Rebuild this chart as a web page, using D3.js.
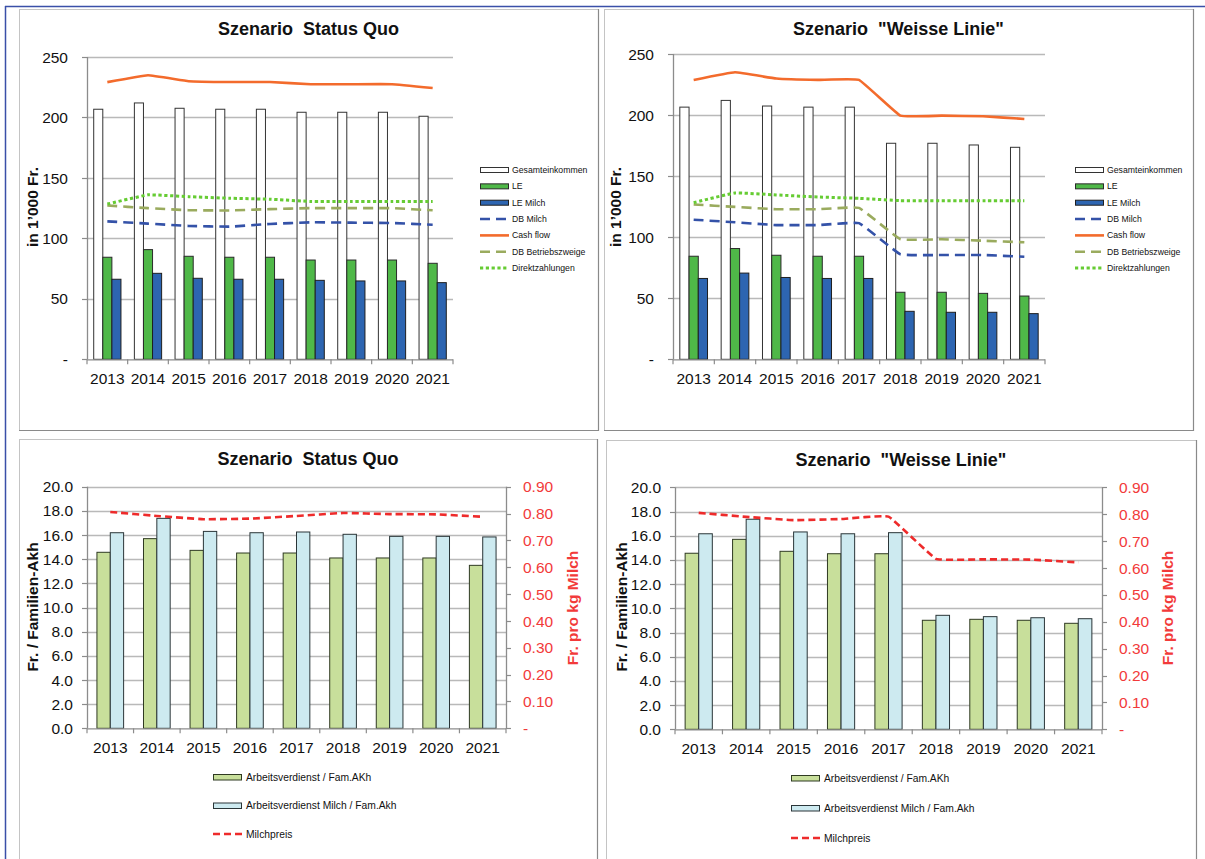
<!DOCTYPE html>
<html>
<head>
<meta charset="utf-8">
<script src="https://cdn.jsdelivr.net/npm/d3@7"></script>
<style>
  html, body { margin: 0; padding: 0; background: #fff; }
  svg { display: block; font-family: "Liberation Sans", Arial, sans-serif; }
</style>
</head>
<body>
<svg id="chart" width="1205" height="859"></svg>
<script>
// ---------- data ----------
const years = ["2013", "2014", "2015", "2016", "2017", "2018", "2019", "2020", "2021"];

// Einkommen (in 1'000 Fr.) – Szenario Status Quo
const sqGesamt   = [206.8, 212.0, 207.6, 206.8, 206.8, 204.3, 204.3, 204.3, 201.0];
const sqLE       = [84.4, 90.7, 85.2, 84.4, 84.4, 82.1, 82.1, 82.1, 79.4];
const sqLEMilch  = [66.2, 71.1, 67.0, 66.2, 66.2, 65.3, 64.8, 64.8, 63.4];
const sqDBMilch  = [114.1, 112.2, 110.3, 109.7, 111.9, 113.3, 113.0, 112.7, 111.3];
const sqCashflow = [229.2, 234.9, 230.0, 229.3, 229.3, 227.5, 227.5, 227.5, 224.4];
const sqDBBetrieb = [127.2, 125.0, 123.3, 123.1, 124.2, 125.0, 125.0, 125.0, 123.2];
const sqDirekt   = [128.4, 136.0, 134.5, 133.2, 132.4, 130.5, 130.5, 130.5, 130.5];

// Einkommen (in 1'000 Fr.) – Szenario "Weisse Linie"
const wlGesamt   = [206.5, 212.0, 207.4, 206.5, 206.5, 176.9, 176.9, 175.5, 173.6];
const wlLE       = [84.4, 90.7, 85.2, 84.4, 84.4, 54.9, 54.9, 54.0, 51.8];
const wlLEMilch  = [66.2, 70.6, 67.0, 66.2, 66.2, 39.3, 38.5, 38.5, 37.4];
const wlDBMilch  = [114.3, 112.2, 109.9, 109.9, 111.5, 86.0, 85.4, 85.4, 84.0];
const wlCashflow = [228.7, 235.0, 229.9, 228.8, 228.8, 199.5, 199.5, 199.0, 196.8];
const wlDBBetrieb = [126.8, 124.8, 122.9, 122.9, 124.0, 98.3, 98.3, 97.1, 95.8];
const wlDirekt   = [128.3, 136.2, 134.6, 132.9, 131.8, 129.9, 129.9, 129.9, 129.9];

// Arbeitsverdienst (Fr. / Familien-Akh) und Milchpreis (Fr. pro kg Milch)
const sqAV        = [14.57, 15.70, 14.73, 14.51, 14.51, 14.10, 14.10, 14.10, 13.49];
const sqAVMilch   = [16.19, 17.38, 16.30, 16.19, 16.25, 16.06, 15.89, 15.89, 15.84];
const sqMilchpreis = [0.806, 0.791, 0.779, 0.781, 0.791, 0.802, 0.798, 0.797, 0.788];

const wlAV        = [14.55, 15.70, 14.71, 14.51, 14.51, 9.01, 9.09, 9.01, 8.76];
const wlAVMilch   = [16.16, 17.36, 16.31, 16.16, 16.25, 9.42, 9.31, 9.22, 9.14];
const wlMilchpreis = [0.805, 0.790, 0.778, 0.782, 0.791, 0.634, 0.632, 0.631, 0.621];

// axis ticks and labels
const incomeTicks = [0, 50, 100, 150, 200, 250];
const incomeTickLabels = ["-", "50", "100", "150", "200", "250"];
const akhTicks = [0, 2, 4, 6, 8, 10, 12, 14, 16, 18, 20];
const akhTickLabels = ["0.0", "2.0", "4.0", "6.0", "8.0", "10.0", "12.0", "14.0", "16.0", "18.0", "20.0"];
const priceTicks = [0, 0.1, 0.2, 0.3, 0.4, 0.5, 0.6, 0.7, 0.8, 0.9];
const priceTickLabels = ["-", "0.10", "0.20", "0.30", "0.40", "0.50", "0.60", "0.70", "0.80", "0.90"];

const incomeLegend = ["Gesamteinkommen", "LE", "LE Milch", "DB Milch", "Cash flow", "DB Betriebszweige", "Direktzahlungen"];
const akhLegend = ["Arbeitsverdienst / Fam.AKh", "Arbeitsverdienst Milch / Fam.Akh", "Milchpreis"];
const titleSQ = "Szenario\u00a0 Status Quo";
const titleWL = "Szenario\u00a0 \"Weisse Linie\"";

// ---------- styles ----------
const C = {
  grid: "#b9b9b9", axis: "#8c8c8c", text: "#111",
  gesamt: "#ffffff", le: "#4fb848", leMilch: "#2d65b1",
  dbMilch: "#3452a8", cash: "#f36b2c", dbBetrieb: "#9aab5e", direkt: "#66cc33",
  av: "#c8df9b", avMilch: "#cdeaf0", price: "#ee2b2b", priceText: "#f23a3a"
};
const lineStyles = {
  "DB Milch": { color: C.dbMilch, dash: "10,6", width: 2.6 },
  "Cash flow": { color: C.cash, dash: null, width: 2.6 },
  "DB Betriebszweige": { color: C.dbBetrieb, dash: "10,6", width: 2.6 },
  "Direktzahlungen": { color: C.direkt, dash: "3.2,2.6", width: 3 }
};
// gently smoothed lines
const smooth = d3.curveCardinal.tension(0.75);

const svg = d3.select("#chart");

// outer frame
svg.append("line").attr("x1", 5).attr("x2", 1205).attr("y1", 6.5).attr("y2", 6.5)
  .attr("stroke", "#3a4fa8").attr("stroke-width", 1.5);
svg.append("line").attr("x1", 5.5).attr("x2", 5.5).attr("y1", 6).attr("y2", 859)
  .attr("stroke", "#3a4fa8").attr("stroke-width", 1.5);

function panelBox(x0, y0, x1, y1) {
  svg.append("rect").attr("x", x0 + 0.5).attr("y", y0 + 0.5)
    .attr("width", x1 - x0).attr("height", y1 - y0)
    .attr("fill", "#fff").attr("stroke", "#c4c4c4").attr("stroke-width", 1);
  svg.append("line").attr("x1", x1 + 0.5).attr("x2", x1 + 0.5).attr("y1", y0).attr("y2", y1 + 1)
    .attr("stroke", "#8a8a8a").attr("stroke-width", 1.2);
  svg.append("line").attr("x1", x0).attr("x2", x1 + 1).attr("y1", y1 + 0.5).attr("y2", y1 + 0.5)
    .attr("stroke", "#8a8a8a").attr("stroke-width", 1.2);
}

function title(txt, cx, y) {
  svg.append("text").attr("x", cx).attr("y", y).attr("text-anchor", "middle")
    .attr("font-size", 18).attr("font-weight", "bold").attr("fill", C.text).text(txt);
}

function rotatedTitle(txt, cx, cy, color) {
  svg.append("text").attr("transform", `translate(${cx},${cy}) rotate(-90)`)
    .attr("text-anchor", "middle").attr("dy", "0.36em")
    .attr("font-size", 15.5).attr("font-weight", "bold").attr("fill", color).text(txt);
}

// category axis with ticks at the category borders
function categoryAxis(g, x, y0, x0, x1) {
  g.append("line").attr("x1", x0).attr("x2", x1).attr("y1", y0 + 0.5).attr("y2", y0 + 0.5)
    .attr("stroke", C.axis).attr("stroke-width", 1.3);
  const borders = years.map(d => x(d)).concat([x(years[years.length - 1]) + x.bandwidth()]);
  g.selectAll(null).data(borders).join("line")
    .attr("x1", d => d).attr("x2", d => d).attr("y1", y0).attr("y2", y0 + 5)
    .attr("stroke", C.axis).attr("stroke-width", 1.2);
  g.selectAll(null).data(years).join("text")
    .attr("x", d => x(d) + x.bandwidth() / 2).attr("y", y0 + 19).attr("dy", "0.35em")
    .attr("text-anchor", "middle").attr("font-size", 15.5).attr("fill", C.text).text(d => d);
}

function valueAxis(g, y, ticks, labels, xAxis, xEnd, labelRight) {
  g.selectAll(null).data(ticks).join("line")
    .attr("x1", xAxis).attr("x2", xEnd).attr("y1", d => Math.round(y(d)) + 0.5).attr("y2", d => Math.round(y(d)) + 0.5)
    .attr("stroke", d => d === 0 ? "none" : C.grid).attr("stroke-width", 1.5);
  g.append("line").attr("x1", xAxis + 0.5).attr("x2", xAxis + 0.5)
    .attr("y1", y(ticks[ticks.length - 1])).attr("y2", y(0))
    .attr("stroke", C.axis).attr("stroke-width", 1.3);
  g.selectAll(null).data(ticks).join("line")
    .attr("x1", xAxis - 5).attr("x2", xAxis).attr("y1", d => Math.round(y(d)) + 0.5).attr("y2", d => Math.round(y(d)) + 0.5)
    .attr("stroke", C.axis).attr("stroke-width", 1.2);
  g.selectAll(null).data(ticks).join("text")
    .attr("x", labelRight).attr("y", d => y(d)).attr("dy", "0.36em")
    .attr("text-anchor", "end").attr("font-size", 15.5).attr("fill", C.text)
    .text((d, i) => labels[i]);
}

// ---------- income chart (bars + lines) ----------
function incomeChart(p, s) {
  panelBox(p.box[0], p.box[1], p.box[2], p.box[3]);
  title(p.title, (p.box[0] + p.box[2]) / 2, 35);
  const g = svg.append("g");
  const x = d3.scaleBand().domain(years).range([p.x0, p.x1]).padding(0);
  const y = d3.scaleLinear().domain([0, 250]).range([p.yBottom, p.yTop]);
  valueAxis(g, y, incomeTicks, incomeTickLabels, p.x0, p.x1, p.x0 - 19);

  const barSeries = [
    { name: "Gesamteinkommen", values: s.gesamt, fill: C.gesamt, stroke: "#333" },
    { name: "LE", values: s.le, fill: C.le, stroke: "#2a2a2a" },
    { name: "LE Milch", values: s.leMilch, fill: C.leMilch, stroke: "#1f1f1f" }
  ];
  const groupW = x.bandwidth() * 0.67;
  const xs = d3.scaleBand().domain(barSeries.map(d => d.name)).range([0, groupW]).padding(0);
  barSeries.forEach(ser => {
    g.selectAll(null).data(ser.values).join("rect")
      .attr("x", (d, i) => x(years[i]) + (x.bandwidth() - groupW) / 2 + xs(ser.name))
      .attr("y", d => y(d))
      .attr("width", xs.bandwidth())
      .attr("height", d => y(0) - y(d))
      .attr("fill", ser.fill).attr("stroke", ser.stroke).attr("stroke-width", 1);
  });
  categoryAxis(g, x, p.yBottom, p.x0, p.x1);

  const lineSeries = [
    { name: "DB Milch", values: s.dbMilch },
    { name: "Cash flow", values: s.cash },
    { name: "DB Betriebszweige", values: s.dbBetrieb },
    { name: "Direktzahlungen", values: s.direkt }
  ];
  const line = d3.line()
    .x((d, i) => x(years[i]) + x.bandwidth() / 2)
    .y(d => y(d))
    .curve(smooth);
  lineSeries.forEach(ser => {
    const st = lineStyles[ser.name];
    g.append("path").datum(ser.values).attr("d", line)
      .attr("fill", "none").attr("stroke", st.color).attr("stroke-width", st.width)
      .attr("stroke-dasharray", st.dash);
  });

  // legend
  const lg = svg.append("g");
  incomeLegend.forEach((name, i) => {
    const yy = 170 + i * 16.35;
    const sw = p.legendX;
    const bar = barSeries.find(b => b.name === name);
    if (bar) {
      lg.append("rect").attr("x", sw + 0.5).attr("y", yy - 2.5).attr("width", 28).attr("height", 5)
        .attr("fill", bar.fill).attr("stroke", bar.stroke).attr("stroke-width", 1);
    } else {
      const st = lineStyles[name];
      lg.append("line").attr("x1", sw).attr("x2", sw + 29).attr("y1", yy).attr("y2", yy)
        .attr("stroke", st.color).attr("stroke-width", st.width).attr("stroke-dasharray", st.dash);
    }
    lg.append("text").attr("x", sw + 32).attr("y", yy).attr("dy", "0.35em")
      .attr("font-size", 8.7).attr("fill", C.text).text(name);
  });
  rotatedTitle("in 1\u2019000 Fr.", p.titleX, 207, C.text);
}

// ---------- Arbeitsverdienst chart (bars + price line) ----------
function akhChart(p, s) {
  panelBox(p.box[0], p.box[1], p.box[2], p.box[3]);
  title(p.title, p.titleCX, p.titleY);
  const g = svg.append("g");
  const x = d3.scaleBand().domain(years).range([p.x0, p.x1]).padding(0);
  const y = d3.scaleLinear().domain([0, 20]).range([p.yBottom, p.yTop]);
  const y2 = d3.scaleLinear().domain([0, 0.9]).range([p.yBottom, p.yTop]);
  valueAxis(g, y, akhTicks, akhTickLabels, p.x0, p.x1, p.x0 - 14);

  // secondary axis
  g.append("line").attr("x1", p.x1 + 0.5).attr("x2", p.x1 + 0.5).attr("y1", p.yTop).attr("y2", p.yBottom)
    .attr("stroke", C.axis).attr("stroke-width", 1.3);
  g.selectAll(null).data(priceTicks).join("line")
    .attr("x1", p.x1).attr("x2", p.x1 + 5).attr("y1", d => Math.round(y2(d)) + 0.5).attr("y2", d => Math.round(y2(d)) + 0.5)
    .attr("stroke", C.axis).attr("stroke-width", 1.2);
  g.selectAll(null).data(priceTicks).join("text")
    .attr("x", p.x1 + 17).attr("y", d => y2(d)).attr("dy", "0.36em")
    .attr("font-size", 15.5).attr("fill", C.priceText).text((d, i) => priceTickLabels[i]);

  const barSeries = [
    { name: akhLegend[0], values: s.av, fill: C.av, stroke: "#2f3a22" },
    { name: akhLegend[1], values: s.avMilch, fill: C.avMilch, stroke: "#2a3538" }
  ];
  const groupW = x.bandwidth() * 0.573;
  const xs = d3.scaleBand().domain(barSeries.map(d => d.name)).range([0, groupW]).padding(0);
  barSeries.forEach(ser => {
    g.selectAll(null).data(ser.values).join("rect")
      .attr("x", (d, i) => x(years[i]) + (x.bandwidth() - groupW) / 2 + xs(ser.name))
      .attr("y", d => y(d))
      .attr("width", xs.bandwidth())
      .attr("height", d => y(0) - y(d))
      .attr("fill", ser.fill).attr("stroke", ser.stroke).attr("stroke-width", 1);
  });
  categoryAxis(g, x, p.yBottom, p.x0, p.x1);

  const line = d3.line()
    .x((d, i) => x(years[i]) + x.bandwidth() / 2)
    .y(d => y2(d))
    .curve(smooth);
  g.append("path").datum(s.price).attr("d", line)
    .attr("fill", "none").attr("stroke", C.price).attr("stroke-width", 2.6).attr("stroke-dasharray", "7,4");

  // legend
  const lg = svg.append("g");
  akhLegend.forEach((name, i) => {
    const yy = p.legendY[i];
    const bar = barSeries.find(b => b.name === name);
    if (bar) {
      lg.append("rect").attr("x", p.legendX + 0.5).attr("y", yy - 2.5).attr("width", 28).attr("height", 5.5)
        .attr("fill", bar.fill).attr("stroke", bar.stroke).attr("stroke-width", 1);
    } else {
      lg.append("line").attr("x1", p.legendX).attr("x2", p.legendX + 29).attr("y1", yy).attr("y2", yy)
        .attr("stroke", C.price).attr("stroke-width", 2.6).attr("stroke-dasharray", "7,4");
    }
    lg.append("text").attr("x", p.legendX + 33).attr("y", yy).attr("dy", "0.35em")
      .attr("font-size", 10.3).attr("fill", C.text).text(name);
  });
  rotatedTitle("Fr. / Familien-Akh", p.titleLX, 607, C.text);
  rotatedTitle("Fr. pro kg Milch", p.titleRX, 608, C.priceText);
}

incomeChart(
  { box: [19, 9, 598, 430], title: titleSQ, x0: 87, x1: 453, yTop: 57, yBottom: 359.3, legendX: 480, titleX: 32 },
  { gesamt: sqGesamt, le: sqLE, leMilch: sqLEMilch, dbMilch: sqDBMilch, cash: sqCashflow, dbBetrieb: sqDBBetrieb, direkt: sqDirekt }
);
incomeChart(
  { box: [604, 9, 1193, 430], title: titleWL, x0: 673, x1: 1045, yTop: 54, yBottom: 359.3, legendX: 1075, titleX: 615 },
  { gesamt: wlGesamt, le: wlLE, leMilch: wlLEMilch, dbMilch: wlDBMilch, cash: wlCashflow, dbBetrieb: wlDBBetrieb, direkt: wlDirekt }
);
akhChart(
  { box: [19, 439, 597, 875], title: titleSQ, titleCX: 308, titleY: 465, x0: 87, x1: 506, yTop: 486.7, yBottom: 728.3,
    legendX: 213, legendY: [777, 805.5, 834], titleLX: 32, titleRX: 572 },
  { av: sqAV, avMilch: sqAVMilch, price: sqMilchpreis }
);
akhChart(
  { box: [606, 440, 1196, 875], title: titleWL, titleCX: 901, titleY: 466, x0: 675, x1: 1102, yTop: 487.3, yBottom: 729.3,
    legendX: 791, legendY: [778, 808, 838], titleLX: 621, titleRX: 1167 },
  { av: wlAV, avMilch: wlAVMilch, price: wlMilchpreis }
);
</script>
</body>
</html>
